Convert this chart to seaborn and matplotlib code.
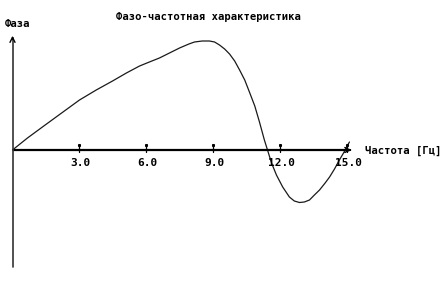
import matplotlib
matplotlib.use("Agg")
import matplotlib.pyplot as plt
import seaborn as sns
import pandas as pd

# Data (frequency in Hz, phase in arbitrary units)
freq = [0.0, 0.67, 1.34, 2.2, 3.0, 3.75, 4.48, 5.1, 5.69, 6.13, 6.58, 7.03,
        7.48, 7.9, 8.15, 8.5, 8.82, 9.05, 9.27, 9.5, 9.72, 9.95, 10.17,
        10.4, 10.61, 10.85, 11.06, 11.28, 11.42, 11.6, 11.82, 12.1, 12.4,
        12.62, 12.85, 13.07, 13.3, 13.52, 13.75, 14.0, 14.2, 14.42, 14.64,
        14.85, 14.96, 15.09]
phase = [0, 12, 23, 37, 50, 60, 69, 77, 84, 88, 92, 97,
         102, 106, 108, 109, 109, 108, 105, 101, 96, 89, 80,
         70, 58, 44, 28, 10, 0, -13, -25, -37, -47,
         -51, -52.5, -52, -50, -45, -40, -33, -27, -19, -10,
         -2, 3, 8]
tick_values = [3.0, 6.0, 9.0, 12.0, 15.0]
tick_labels = ["3.0", "6.0", "9.0", "12.0", "15.0"]
title = "Фазо-частотная характеристика"
ylabel = "Фаза"
xlabel = "Частота [Гц]"

df = pd.DataFrame({"f": freq, "phi": phase})

sns.set_style("white")
plt.rcParams['font.family'] = ['DejaVu Sans Mono', 'DejaVu Sans']

fig = plt.figure(figsize=(4.44, 2.84), dpi=100)
ax = fig.add_axes([0, 0, 1, 1])
px = 22.33  # pixels per Hz
ax.set_xlim(-12.5 / px, (444 - 12.5) / px)
ax.set_ylim(-134, 150)
ax.axis("off")

sns.lineplot(data=df, x="f", y="phi", ax=ax, color="#1a1a1a", linewidth=0.9,
             sort=False, legend=False)

# axes with arrows
ax.plot([0, 15.1], [0, 0], color="black", linewidth=1.6, solid_capstyle="butt")
ax.annotate("", xy=(15.3, 0), xytext=(15.0, 0),
            arrowprops=dict(arrowstyle="->", color="black", lw=1.0,
                            mutation_scale=9))
ax.plot([0, 0], [-117, 112], color="#333333", linewidth=1.2)
ax.annotate("", xy=(0, 117), xytext=(0, 108),
            arrowprops=dict(arrowstyle="->", color="black", lw=1.0,
                            mutation_scale=9))

for tv, tl in zip(tick_values, tick_labels):
    ax.plot([tv, tv], [-2, 4], color="black", linewidth=0.9)
    ax.plot([tv], [5.5], marker="s", markersize=1.2, color="black")
    ax.text(tv + 0.05, -13, tl, ha="center", va="center", fontsize=8,
            fontweight="bold", color="black")

ax.text((208 - 12.5) / px, 150 - 17, title, ha="center", va="center",
        fontsize=7.6, fontweight="bold", color="black")
ax.text(-8 / px, 150 - 24, ylabel, ha="left", va="center", fontsize=7.6,
        fontweight="bold", color="black")
ax.text((365 - 12.5) / px, 150 - 151, xlabel, ha="left", va="center",
        fontsize=7.6, fontweight="bold", color="black")

fig.savefig("out.png", dpi=100, facecolor="white")
